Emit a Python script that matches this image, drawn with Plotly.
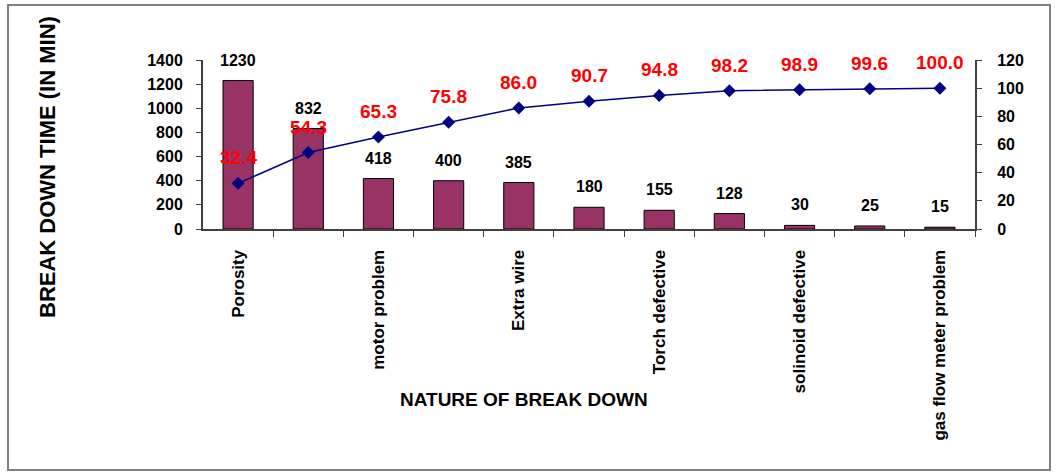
import plotly.graph_objects as go

# ── Data ────────────────────────────────────────────────────────────────────
# only every other category name is legible in the source chart
CATEGORIES = ["Porosity", "", "motor problem", "", "Extra wire", "",
              "Torch defective", "", "solinoid defective", "",
              "gas flow meter problem"]
BREAKDOWN_MIN = [1230, 832, 418, 400, 385, 180, 155, 128, 30, 25, 15]
CUMULATIVE_PCT = [32.4, 54.3, 65.3, 75.8, 86.0, 90.7, 94.8, 98.2, 98.9, 99.6, 100.0]

LEFT_TICKS = [0, 200, 400, 600, 800, 1000, 1200, 1400]
RIGHT_TICKS = [0, 20, 40, 60, 80, 100, 120]

BAR_COLOR = "#993366"
LINE_COLOR = "#000080"
FONT = "Liberation Sans, Arial, sans-serif"

x = list(range(len(CATEGORIES)))

fig = go.Figure()
fig.add_trace(go.Bar(
    x=x, y=BREAKDOWN_MIN,
    marker=dict(color=BAR_COLOR, line=dict(color="black", width=1)),
    width=0.43,
    showlegend=False,
))
fig.add_trace(go.Scatter(
    x=x, y=CUMULATIVE_PCT, yaxis="y2",
    mode="lines+markers",
    line=dict(color=LINE_COLOR, width=1.5),
    marker=dict(symbol="diamond", size=10, color=LINE_COLOR),
    showlegend=False,
))

# plot area in pixels: x 203..975, y 60..229
L, R, T, B = 203, 84, 60, 246
W, H = 1059, 475
pw, ph = W - L - R, H - T - B

def px_x(p):
    return (p - L) / pw

def px_y(p):
    return (H - B - p) / ph

annotations = []
for i, v in zip(x, BREAKDOWN_MIN):
    annotations.append(dict(
        x=i, y=v, xref="x", yref="y", text=str(v), showarrow=False,
        yanchor="bottom", yshift=10,
        font=dict(family=FONT, size=16, color="black", weight="bold"),
    ))
for i, c in zip(x, CUMULATIVE_PCT):
    annotations.append(dict(
        x=i, y=c, xref="x", yref="y2", text=f"{c:.1f}", showarrow=False,
        yanchor="bottom", yshift=13,
        font=dict(family=FONT, size=19, color="#FF0000", weight="bold"),
    ))

# axis titles
annotations.append(dict(
    x=px_x(47), y=px_y(167), xref="paper", yref="paper",
    text="BREAK DOWN TIME (IN MIN)", textangle=-90, showarrow=False,
    xanchor="center", yanchor="middle",
    font=dict(family=FONT, size=22, color="black", weight="bold"),
))
annotations.append(dict(
    x=px_x(524), y=px_y(399), xref="paper", yref="paper",
    text="NATURE OF BREAK DOWN", showarrow=False,
    xanchor="center", yanchor="middle",
    font=dict(family=FONT, size=19, color="black", weight="bold"),
))

fig.update_layout(
    width=W, height=H,
    paper_bgcolor="white", plot_bgcolor="white",
    margin=dict(l=L, r=R, t=T, b=B),
    font=dict(family=FONT, color="black"),
    xaxis=dict(
        range=[-0.5, len(x) - 0.5],
        tickvals=x, ticktext=CATEGORIES, ticks="",
        tickangle=-90, ticklabelstandoff=12,
        tickfont=dict(size=17, weight="bold"),
        showline=True, linecolor="#404040", linewidth=2,
        showgrid=False, zeroline=False,
        minor=dict(tickvals=[i + 0.5 for i in x], ticks="outside",
                   ticklen=6, tickcolor="#404040", tickwidth=1),
    ),
    yaxis=dict(
        range=[0, 1400], tickvals=LEFT_TICKS,
        ticks="outside", ticklen=5, tickcolor="#404040",
        ticklabelstandoff=10,
        tickfont=dict(size=16, weight="bold"),
        showline=True, linecolor="#404040", linewidth=2,
        showgrid=False, zeroline=False,
    ),
    yaxis2=dict(
        range=[0, 120], tickvals=RIGHT_TICKS, overlaying="y", side="right",
        ticks="outside", ticklen=5, tickcolor="#404040",
        ticklabelstandoff=12,
        tickfont=dict(size=16, weight="bold"),
        showline=True, linecolor="#404040", linewidth=2,
        showgrid=False, zeroline=False,
    ),
    annotations=annotations,
    shapes=[dict(
        type="rect", xref="paper", yref="paper",
        x0=px_x(8), x1=px_x(1050), y0=px_y(470), y1=px_y(5),
        line=dict(color="#808080", width=2), layer="below",
    )],
)

fig.write_html("out.html", config={"displayModeBar": False},
               post_script="document.body.style.margin='0';")
